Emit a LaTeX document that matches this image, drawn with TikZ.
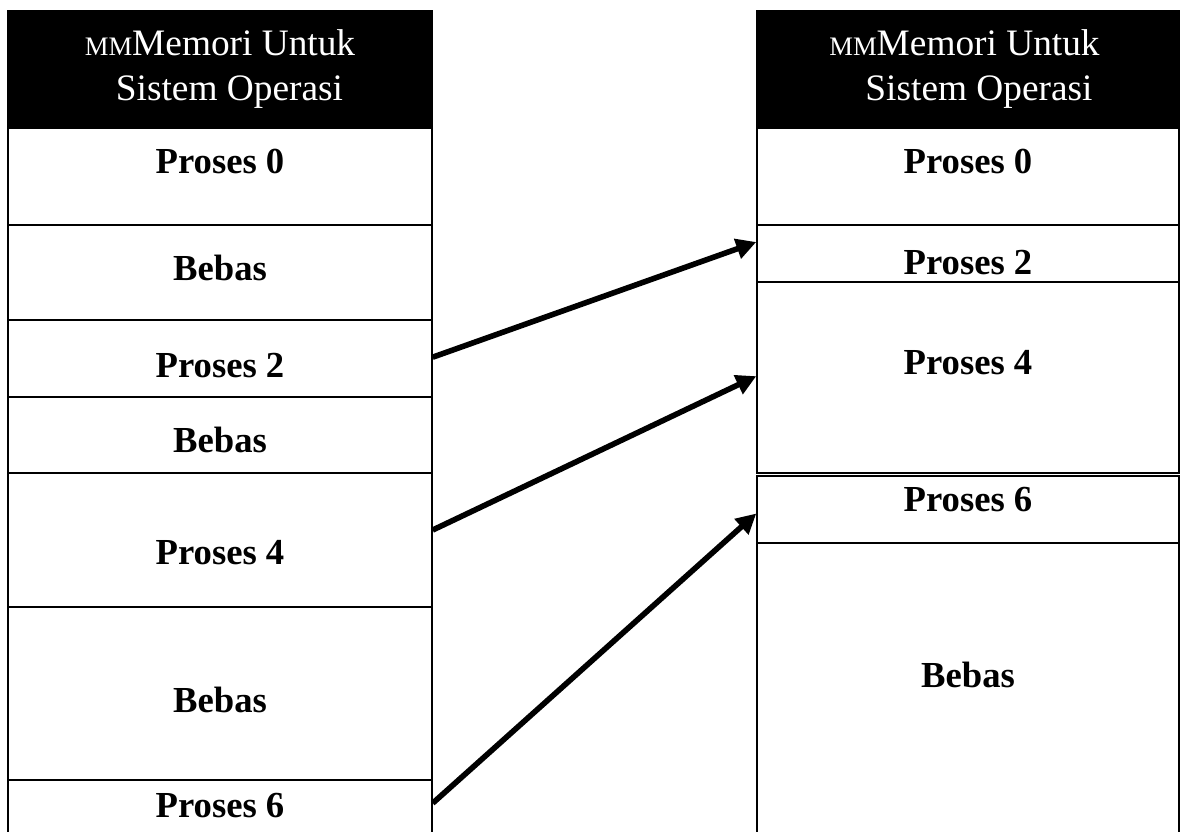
\documentclass[tikz,border=0pt]{standalone}
\usepackage{fontspec}
\setmainfont{Liberation Serif}
\usetikzlibrary{arrows.meta,fit}
\begin{document}
\begin{tikzpicture}[x=0.75pt,y=-0.75pt,
  cell/.style={draw=black,line width=1.1pt,fill=white,inner sep=0pt,rectangle},
  head/.style={draw=black,line width=0.8pt,fill=black,inner sep=0pt,rectangle},
  htext/.style={text=white,anchor=base,inner sep=0pt,font=\fontsize{28}{30}\selectfont},
  lbl/.style={anchor=base,inner sep=0pt,font=\fontsize{27.5}{30}\selectfont\bfseries},
  move/.style={line width=4.2pt,-{Triangle[length=15pt,width=15pt]}}]
\useasboundingbox (0,0) rectangle (1182,832);
\clip (0,0) rectangle (1182,832);
\fill[white] (0,0) rectangle (1182,832);
% left column
\node[head,fit={(8,11) (432,128)}] (LH) {};
\node[cell,fit={(8,128) (432,225)}] (L0) {};
\node[cell,fit={(8,225) (432,320)}] (L1) {};
\node[cell,fit={(8,320) (432,397)}] (L2) {};
\node[cell,fit={(8,397) (432,473)}] (L3) {};
\node[cell,fit={(8,473) (432,607)}] (L4) {};
\node[cell,fit={(8,607) (432,780)}] (L5) {};
\node[cell,fit={(8,780) (432,845)}] (L6) {};
% right column
\node[head,fit={(757,11) (1179,128)}] (RH) {};
\node[cell,fit={(757,128) (1179,225)}] (R0) {};
\node[cell,fit={(757,225) (1179,282)}] (R2) {};
\node[cell,fit={(757,282) (1179,473)}] (R4) {};
\node[cell,fit={(757,476) (1179,543)}] (R6) {};
\node[cell,line width=1.6pt,fit={(757,543) (1179,845)}] (R7) {};
% header texts
\node[htext] (lh1) at (220,55) {{\fontsize{20}{20}\selectfont MM}Memori Untuk};
\node[htext] (lh2) at (229.5,100) {Sistem Operasi};
\node[htext] (rh1) at (964.5,55) {{\fontsize{20}{20}\selectfont MM}Memori Untuk};
\node[htext] (rh2) at (979,100) {Sistem Operasi};
% left labels
\node[lbl] (tl0) at (220,173) {Proses 0};
\node[lbl] (tl1) at (220,280) {Bebas};
\node[lbl] (tl2) at (220,377) {Proses 2};
\node[lbl] (tl3) at (220,452) {Bebas};
\node[lbl] (tl4) at (220,564) {Proses 4};
\node[lbl] (tl5) at (220,712) {Bebas};
\node[lbl] (tl6) at (220,817) {Proses 6};
% right labels
\node[lbl] (tr0) at (968,173) {Proses 0};
\node[lbl] (tr2) at (968,274) {Proses 2};
\node[lbl] (tr4) at (968,374) {Proses 4};
\node[lbl] (tr6) at (968,511) {Proses 6};
\node[lbl] (tr7) at (968,687) {Bebas};
% arrows
\draw[move] ([yshift=1pt]L2.east) -- ([yshift=8.6pt]R2.west);
\draw[move] ([yshift=7.5pt]L4.east) -- ([yshift=1pt]R4.west);
\draw[move] ([yshift=7pt]L6.east) -- ([yshift=-3pt]R6.west);
\end{tikzpicture}
\end{document}
